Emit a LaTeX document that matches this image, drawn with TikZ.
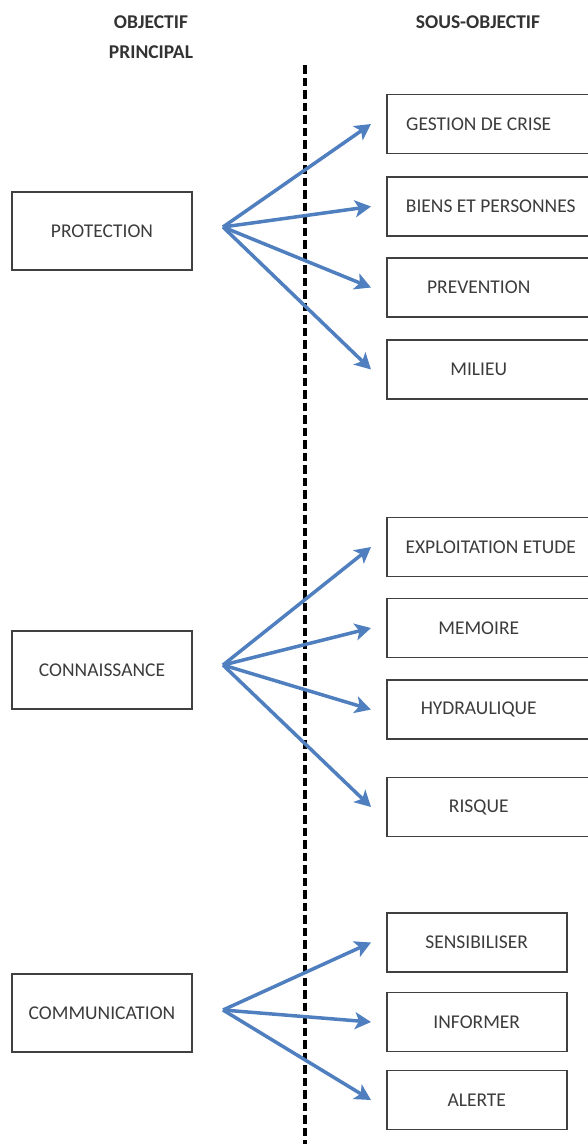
\documentclass[tikz,border=0pt]{standalone}
\usepackage{fontspec}
\setmainfont{Carlito}
\usetikzlibrary{arrows.meta}
\definecolor{boxgray}{HTML}{404040}
\definecolor{txtgray}{HTML}{3C3C3C}
\definecolor{headgray}{HTML}{333333}
\definecolor{linkblue}{HTML}{4F7FBF}
\begin{document}
\begin{tikzpicture}[x=1pt,y=-1pt,
  boxtext/.style={font=\fontsize{19.5}{22}\selectfont, text=txtgray},
  mainbox/.style={boxtext, draw=boxgray, line width=1.5pt, minimum width=180pt, minimum height=78pt, inner sep=0pt},
  subbox/.style={boxtext, draw=boxgray, line width=1.5pt, minimum width=224pt, minimum height=59pt, inner sep=0pt, anchor=west},
  subboxc/.style={subbox, minimum width=180pt},
  head/.style={font=\bfseries\fontsize{19.5}{30}\selectfont, text=headgray, align=center},
  link/.style={draw=linkblue, line width=3.5pt, -{Stealth[length=16pt,width=17pt,inset=4pt]}},
  divider/.style={black, line width=3.2pt, dash pattern=on 8.5pt off 4pt}]

\useasboundingbox (0,0) rectangle (588,1144);

% headers
\node[head] (h1) at (151,37) {OBJECTIF\\PRINCIPAL};
\node[head] (h2) at (478,22) {SOUS-OBJECTIF};

% divider
\coordinate (dtop) at (305,65);
\coordinate (dbot) at (305,1150);
\draw[divider] (dtop) -- (dbot);

% main objectives
\node[mainbox] (prot) at (102,231) {PROTECTION};
\node[mainbox] (conn) at (102,670) {CONNAISSANCE};
\node[mainbox] (comm) at (102,1013) {COMMUNICATION};

% sub-objectives
\node[subbox] (g1) at (386,124) {GESTION DE CRISE\hspace*{40pt}};
\node[subbox] (g2) at (386,206.5) {BIENS ET PERSONNES\hspace*{16pt}};
\node[subbox] (g3) at (386,287.5) {PREVENTION\hspace*{40pt}};
\node[subbox] (g4) at (386,369.5) {MILIEU\hspace*{40pt}};

\node[subbox] (e1) at (386,547) {EXPLOITATION ETUDE\hspace*{16pt}};
\node[subbox] (e2) at (386,628) {MEMOIRE\hspace*{40pt}};
\node[subbox] (e3) at (386,709.5) {HYDRAULIQUE\hspace*{40pt}};
\node[subbox] (e4) at (386,807) {RISQUE\hspace*{40pt}};

\node[subboxc] (s1) at (386,942.5) {SENSIBILISER};
\node[subboxc] (s2) at (386,1022) {INFORMER};
\node[subboxc] (s3) at (386,1100) {ALERTE};

% arrow origins
\coordinate (po) at (223,227);
\coordinate (co) at (223,665);
\coordinate (mo) at (223,1010);

\foreach \t in {g1,g2,g3,g4} \draw[link] (po) -- ([xshift=-15pt]\t.west);
\foreach \t in {e1,e2,e3,e4} \draw[link] (co) -- ([xshift=-15pt]\t.west);
\foreach \t in {s1,s2,s3} \draw[link] (mo) -- ([xshift=-15pt]\t.west);
\end{tikzpicture}
\end{document}
